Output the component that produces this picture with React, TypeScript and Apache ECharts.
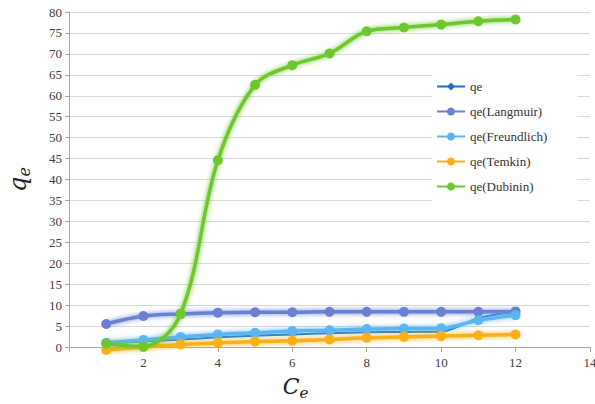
import React, { useEffect, useRef } from "react";
import * as echarts from "echarts";

const xValues = [1, 2, 3, 4, 5, 6, 7, 8, 9, 10, 11, 12];
const qe = [0.8, 1.3, 1.8, 2.3, 2.7, 3.0, 3.3, 3.5, 3.6, 3.7, 6.9, 8.4];
const qeLangmuir = [5.5, 7.4, 7.9, 8.2, 8.3, 8.3, 8.4, 8.4, 8.4, 8.4, 8.4, 8.5];
const qeFreundlich = [1.0, 1.7, 2.4, 3.0, 3.4, 3.8, 4.0, 4.3, 4.4, 4.5, 6.4, 7.6];
const qeTemkin = [-0.7, 0.0, 0.6, 1.0, 1.3, 1.5, 1.8, 2.2, 2.4, 2.6, 2.8, 3.0];
const qeDubinin = [0.8, 0.1, 7.9, 44.6, 62.6, 67.3, 70.1, 75.4, 76.3, 77.0, 77.8, 78.2];

const seriesNames = ["qe", "qe(Langmuir)", "qe(Freundlich)", "qe(Temkin)", "qe(Dubinin)"];
const seriesData = [qe, qeLangmuir, qeFreundlich, qeTemkin, qeDubinin];
const seriesColors = ["#1f6fc0", "#6b80d2", "#5ab6f2", "#fbb016", "#6ec72e"];

const FONT = "'Liberation Serif', 'Times New Roman', serif";
const MATH = "'DejaVu Serif', serif";

export default function App() {
  const ref = useRef<HTMLDivElement>(null);
  useEffect(() => {
    if (!ref.current) return;
    const chart = echarts.init(ref.current, undefined, { renderer: "svg" });
    const series = seriesNames.map((name, i) => ({
      name,
      type: "line",
      data: xValues.map((x, j) => [x, seriesData[i][j]]),
      smooth: 0.35,
      clip: false,
      symbol: i === 0 ? "diamond" : "circle",
      symbolSize: i === 0 ? 7 : 10,
      showSymbol: true,
      z: 2 + i,
      lineStyle: {
        color: seriesColors[i],
        width: i === 0 ? 2 : 3.5,
        shadowColor: seriesColors[i],
        shadowBlur: i === 0 ? 0 : 5,
      },
      itemStyle: {
        color: seriesColors[i],
        borderWidth: 0,
      },
    }));
    chart.setOption({
      animation: false,
      backgroundColor: "#ffffff",
      grid: { left: 69, right: 5, top: 12, bottom: 57, outerBoundsMode: "none", containLabel: false },
      legend: {
        orient: "vertical",
        left: 432,
        top: 74,
        data: seriesNames,
        backgroundColor: "#ffffff",
        padding: [6, 30, 14, 4],
        itemGap: 12,
        itemWidth: 28,
        itemHeight: 10,
        textStyle: { fontFamily: FONT, fontSize: 13, color: "#333333" },
      },
      xAxis: {
        type: "value",
        min: 0,
        max: 14,
        interval: 2,
        name: "{c|C}{s|e}",
        nameLocation: "middle",
        nameGap: 25,
        nameTextStyle: {
          padding: [0, 68, 0, 0],
          rich: {
            c: { fontFamily: MATH, fontStyle: "italic", fontSize: 22, lineHeight: 28, color: "#222" },
            s: { fontFamily: MATH, fontStyle: "italic", fontSize: 15, lineHeight: 15, verticalAlign: "bottom", color: "#222" },
          },
        },
        axisLine: { show: true, lineStyle: { color: "#a6a6a6", width: 1 } },
        axisTick: { show: true, length: 5, lineStyle: { color: "#a6a6a6" } },
        splitLine: { show: false },
        axisLabel: {
          fontFamily: FONT,
          fontSize: 13,
          color: "#404040",
          margin: 9,
          formatter: (v: number) => (v === 0 ? "" : String(v)),
        },
      },
      yAxis: {
        type: "value",
        min: 0,
        max: 80,
        interval: 5,
        name: "{q|q}{s|e}",
        nameLocation: "middle",
        nameRotate: 90,
        nameGap: 37,
        nameTextStyle: {
          rich: {
            q: { fontFamily: MATH, fontStyle: "italic", fontSize: 24, lineHeight: 28, color: "#222" },
            s: { fontFamily: MATH, fontStyle: "italic", fontSize: 16, lineHeight: 15, verticalAlign: "bottom", color: "#222" },
          },
        },
        axisLine: { show: true, lineStyle: { color: "#a6a6a6", width: 1 } },
        axisTick: { show: true, length: 4, lineStyle: { color: "#a6a6a6" } },
        splitLine: { show: true, lineStyle: { color: "#d9d9d9", width: 1 } },
        axisLabel: { fontFamily: FONT, fontSize: 13, color: "#404040", margin: 7 },
      },
      series,
    });
    return () => chart.dispose();
  }, []);
  return <div ref={ref} style={{ width: 595, height: 404, position: "absolute", left: 0, top: 0 }} />;
}
